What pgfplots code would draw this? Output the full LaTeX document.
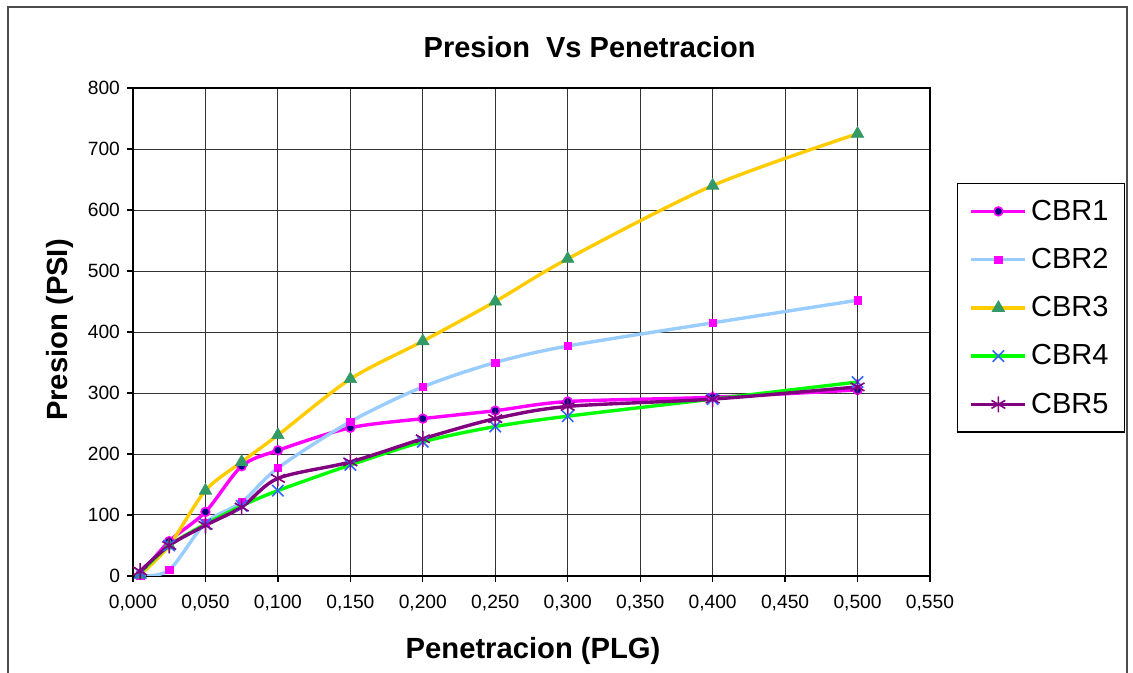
\documentclass[border=0pt]{standalone}
\usepackage{pgfplots}
\pgfplotsset{compat=1.18}
\usepackage{fontspec}
\setmainfont{Liberation Sans}
\definecolor{cMag}{HTML}{FF00FF}
\definecolor{cNavy}{HTML}{000080}
\definecolor{cLBlue}{HTML}{99CCFF}
\definecolor{cGold}{HTML}{FFCC00}
\definecolor{cTri}{HTML}{339966}
\definecolor{cGreen}{HTML}{00FF00}
\definecolor{cXBlue}{HTML}{3366FF}
\definecolor{cPurp}{HTML}{800080}
\begin{document}
\begin{tikzpicture}
\useasboundingbox (-66.5pt,-48.5pt) rectangle (500pt,288pt);
\draw[black!70, line width=0.6pt] (-62.5pt,-60pt) -- (-62.5pt,284.5pt) -- (497pt,284.5pt) -- (497pt,-60pt);
\begin{axis}[
  at={(0pt,0pt)}, anchor=origin,
  scale only axis, width=398.5pt, height=244pt,
  xmin=0, xmax=0.55, ymin=0, ymax=800,
  xtick={0,0.05,...,0.55}, ytick={0,100,...,800},
  grid=major, major grid style={black!80, line width=0.5pt},
  axis line style={black, line width=0.8pt},
  tick align=outside, tick pos=left, major tick length=3pt,
  tick style={black, line width=0.6pt},
  /pgf/number format/assume math mode=true,
  xticklabel style={/pgf/number format/.cd, fixed, fixed zerofill, precision=3, use comma, /tikz/.cd, yshift=-3pt},
  yticklabel style={/pgf/number format/.cd, fixed, precision=0},
  ticklabel style={font=\fontsize{9.6pt}{11pt}\selectfont},
  title={\textbf{Presion\ \ Vs Penetracion}},
  title style={font=\fontsize{14.5pt}{17pt}\selectfont, at={(0.573,1.0594)}, anchor=center},
  xlabel={\textbf{Penetracion (PLG)}},
  ylabel={\textbf{Presion (PSI)}},
  label style={font=\fontsize{14.6pt}{17pt}\selectfont},
  xlabel style={at={(0.502,-0.154)}, anchor=center},
  ylabel style={at={(-0.0916,0.504)}, anchor=center, rotate=0},
  legend style={at={(1.034,0.805)}, anchor=north west, draw=black, line width=0.6pt,
    font=\fontsize{14.5pt}{17pt}\selectfont, row sep=8.5pt, inner xsep=6pt, inner ysep=6pt},
  legend cell align=left,
  legend image code/.code={\draw[#1] (0pt,0pt) -- (27pt,0pt); \draw[#1, only marks] plot coordinates {(13.5pt,0pt)};},
  every axis plot/.append style={line width=1.7pt, smooth, tension=0.5},
]
\addplot[cMag, mark=*, mark size=2.2pt, mark options={solid, fill=cNavy, draw=cMag, line width=0.8pt}]
coordinates {(0.005,2) (0.025,57) (0.05,105) (0.075,180) (0.1,206) (0.15,243) (0.2,258) (0.25,271) (0.3,286) (0.4,293) (0.5,305)};
\addlegendentry{CBR1}
\addplot[cLBlue, mark=square*, mark size=1.8pt, mark options={solid, fill=cMag, draw=cMag, line width=0.3pt}]
coordinates {(0.005,0) (0.025,10) (0.05,87) (0.075,121) (0.1,177) (0.15,253) (0.2,310) (0.25,350) (0.3,377) (0.4,415) (0.5,452)};
\addlegendentry{CBR2}
\addplot[cGold, mark=triangle*, mark size=3.6pt, mark options={solid, fill=cTri, draw=cTri, line width=0.3pt}]
coordinates {(0.005,2) (0.025,50) (0.05,140) (0.075,187) (0.1,231) (0.15,323) (0.2,385) (0.25,450) (0.3,520) (0.4,640) (0.5,725)};
\addlegendentry{CBR3}
\addplot[cGreen, mark=x, mark size=4pt, mark options={solid, draw=cXBlue, line width=0.8pt}]
coordinates {(0.005,5) (0.025,50) (0.05,85) (0.075,115) (0.1,140) (0.15,182) (0.2,220) (0.25,245) (0.3,262) (0.4,290) (0.5,318)};
\addlegendentry{CBR4}
\addplot[cPurp, mark=asterisk, mark size=4pt, mark options={solid, draw=cPurp, line width=0.8pt}]
coordinates {(0.005,8) (0.025,50) (0.05,83) (0.075,113) (0.1,160) (0.15,187) (0.2,225) (0.25,258) (0.3,278) (0.4,290) (0.5,310)};
\addlegendentry{CBR5}
\end{axis}
\end{tikzpicture}
\end{document}
